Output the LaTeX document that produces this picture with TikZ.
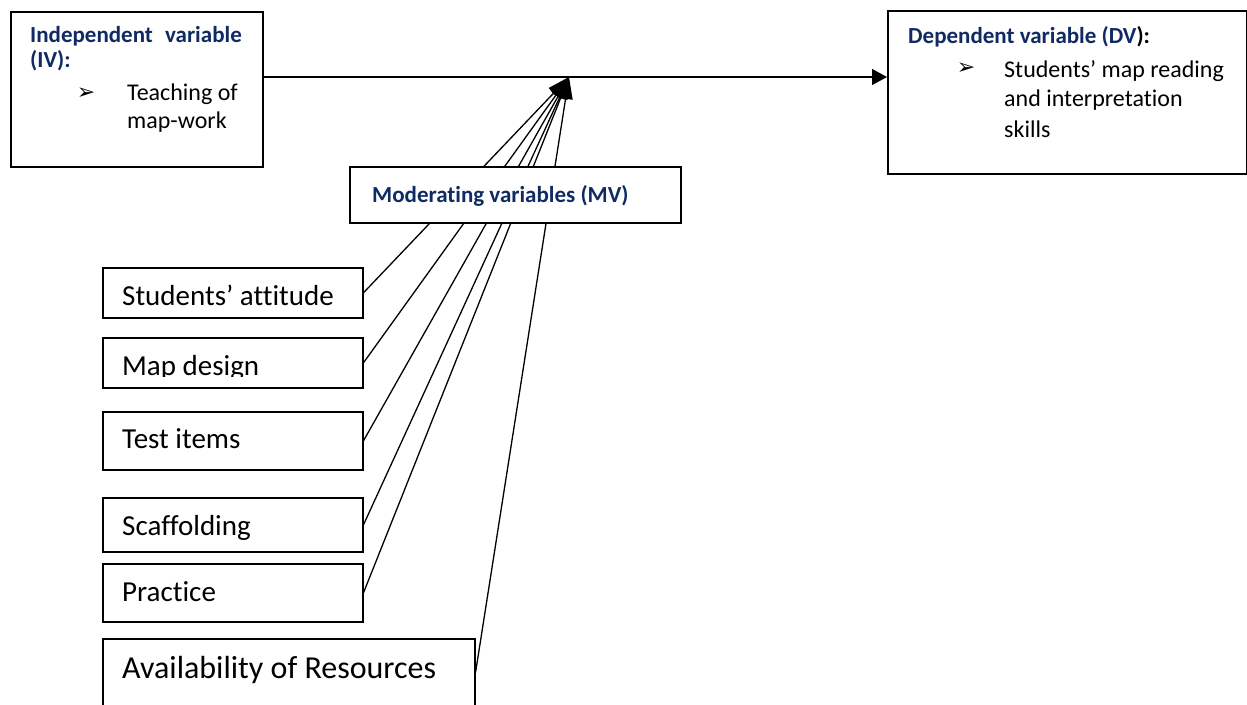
\documentclass[tikz,border=0pt]{standalone}
\usepackage{fontspec}
\setmainfont{Carlito}[Ligatures=NoCommon]
\newfontfamily\symfont{DejaVu Sans}
\usetikzlibrary{arrows.meta}
\definecolor{navy}{RGB}{16,43,100}
\tikzset{
  box/.style={draw=black, line width=1.5pt, fill=white, inner sep=0pt, anchor=north west},
  lbl/.style={inner sep=0pt, anchor=base west, font=\fontsize{29}{34}\selectfont},
  biglbl/.style={lbl, font=\fontsize{32}{38}\selectfont},
  head/.style={inner sep=0pt, anchor=base west, font=\fontsize{23}{28}\selectfont\bfseries, text=navy},
  body/.style={inner sep=0pt, anchor=base west, font=\fontsize{24}{29}\selectfont},
  bul/.style={inner sep=0pt, font=\symfont\fontsize{22}{22}\selectfont},
  link/.style={line width=1.3pt, -{Triangle[length=22pt,width=14pt]}},
  mainlink/.style={line width=1.3pt, -{Triangle[length=15pt,width=16pt]}},
}
\begin{document}
\begin{tikzpicture}[x=1pt,y=-1pt]
\useasboundingbox (0,0) rectangle (1247,704);
\fill[white] (0,0) rectangle (1247,704);

% independent and dependent variable boxes
\node[box, minimum width=252pt, minimum height=155pt] (iv) at (10,11) {};
\node[box, minimum width=359pt, minimum height=163pt] (dv) at (887,10) {};

\node[head] (ivh1) at (30,42) {Independent};
\node[head, anchor=base east] (ivh2) at (242,42) {variable};
\node[head] (ivh3) at (30,67) {(IV):};
\node[bul] (ivb) at (86,94) {➢};
\node[body] (ivt1) at (127,100) {Teaching of};
\node[body] (ivt2) at (127,128) {map-work};

\node[head] (dvh) at (908,43) {Dependent variable (DV\textcolor{black}{):}};
\node[bul] (dvb) at (966,69) {➢};
\node[body] (dvt1) at (1004,77) {Students’ map reading};
\node[body] (dvt2) at (1004,106) {and interpretation};
\node[body] (dvt3) at (1004,137) {skills};

% moderating factors
\node[box, minimum width=260pt, minimum height=50pt] (sa) at (102,267) {};
\node[box, minimum width=260pt, minimum height=50pt] (md) at (102,337) {};
\node[box, minimum width=260pt, minimum height=58pt] (ti) at (102,411) {};
\node[box, minimum width=260pt, minimum height=54pt] (sc) at (102,497) {};
\node[box, minimum width=260pt, minimum height=58pt] (pr) at (102,563) {};
\node[box, minimum width=372pt, minimum height=68pt] (av) at (102,638) {};

\node[lbl] (sat) at (122,305) {Students’ attitude};
\begin{scope}
  \clip (102,337) rectangle (362,376);
  \node[lbl] (mdt) at (122,375) {Map design};
\end{scope}
\node[lbl] (tit) at (122,448) {Test items};
\node[lbl] (sct) at (122,535) {Scaffolding};
\node[lbl] (prt) at (122,601) {Practice};
\node[biglbl] (avt) at (122,678) {Availability of Resources};

% connectors
\coordinate (tip) at (569,77);
\draw[mainlink] (iv.east |- tip) -- (dv.west |- tip);
\foreach \n in {sa,md,ti,sc,pr,av}
  \draw[link] (\n.east) -- (tip);

% moderating variables label box, drawn over the connectors
\node[box, minimum width=331pt, minimum height=56pt] (mv) at (349,166) {};
\node[head] (mvt) at (372,202) {Moderating variables (MV)};
\end{tikzpicture}
\end{document}
